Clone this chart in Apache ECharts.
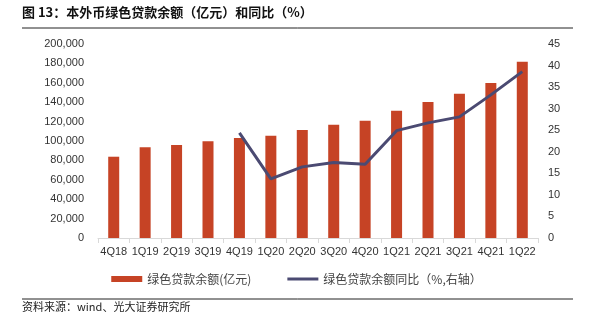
<!DOCTYPE html>
<html>
<head>
<meta charset="utf-8">
<script src="https://cdn.jsdelivr.net/npm/echarts@6/dist/echarts.min.js"></script>
<style>html,body{margin:0;padding:0;background:#fff;}#c{width:593px;height:322px;}</style>
</head>
<body>
<div id="c"></div>
<script>
const categories = ['4Q18','1Q19','2Q19','3Q19','4Q19','1Q20','2Q20','3Q20','4Q20','1Q21','2Q21','3Q21','4Q21','1Q22'];
const balance = [83800, 93500, 95900, 99700, 103100, 105500, 111300, 116700, 120900, 131200, 140200, 148800, 159800, 181800];
const yoy = [null, null, null, null, 24.4, 13.7, 16.5, 17.5, 17.1, 24.9, 26.7, 28.1, 33.2, 38.6];
const titleText = '图 13：本外币绿色贷款余额（亿元）和同比（%）';
const sourceText = '资料来源：wind、光大证券研究所';
const seriesNames = ['绿色贷款余额(亿元)', '绿色贷款余额同比（%,右轴）'];

const font = '"Noto Sans CJK SC", "Noto Sans", sans-serif';
const chart = echarts.init(document.getElementById('c'));
chart.setOption({
  animation: false,
  textStyle: { fontFamily: font },
  grid: { left: 98, right: 55, top: 44, bottom: 84 },
  legend: {
    bottom: 32,
    left: 'center',
    itemGap: 36,
    itemWidth: 31,
    itemHeight: 6,
    textStyle: { fontSize: 12, color: '#444', fontFamily: font },
    data: [
      { name: seriesNames[0], icon: 'rect' },
      { name: seriesNames[1], icon: 'path://M0,0 L31,0 L31,3 L0,3 Z', itemStyle: { color: '#4B4A72' } }
    ]
  },
  xAxis: {
    type: 'category',
    data: categories,
    axisLine: { lineStyle: { color: '#d9d9d9' } },
    axisTick: { show: true, lineStyle: { color: '#d9d9d9' } },
    axisLabel: { color: '#333', fontSize: 11, margin: 8, interval: 0, fontFamily: 'Liberation Sans, Arial, sans-serif' }
  },
  yAxis: [
    {
      type: 'value', min: 0, max: 200000, interval: 20000,
      splitLine: { show: false },
      axisLine: { show: false }, axisTick: { show: false },
      axisLabel: { color: '#333', fontSize: 11, margin: 14, fontFamily: 'Liberation Sans, Arial, sans-serif',
        formatter: v => v.toLocaleString('en-US') }
    },
    {
      type: 'value', min: 0, max: 45, interval: 5,
      splitLine: { show: false },
      axisLine: { show: false }, axisTick: { show: false },
      axisLabel: { color: '#333', fontSize: 11, margin: 10, fontFamily: 'Liberation Sans, Arial, sans-serif' }
    }
  ],
  series: [
    {
      name: seriesNames[0], type: 'bar', data: balance, barWidth: 11,
      itemStyle: { color: '#C64325' }
    },
    {
      name: seriesNames[1], type: 'line', yAxisIndex: 1, data: yoy,
      symbol: 'none', lineStyle: { color: '#4B4A72', width: 3 },
      itemStyle: { color: '#4B4A72' }
    }
  ],
  graphic: [
    { type: 'text', left: 22, top: 6, style: { text: titleText, font: 'bold 13px ' + font, fill: '#111' } },
    { type: 'line', shape: { x1: 22, y1: 28, x2: 573, y2: 28 }, style: { stroke: '#222', lineWidth: 1 } },
    { type: 'line', shape: { x1: 22, y1: 299, x2: 573, y2: 299 }, style: { stroke: '#222', lineWidth: 1 } },
    { type: 'text', left: 22, top: 301, style: { text: sourceText, font: '11px ' + font, fill: '#222' } }
  ]
});
</script>
</body>
</html>
